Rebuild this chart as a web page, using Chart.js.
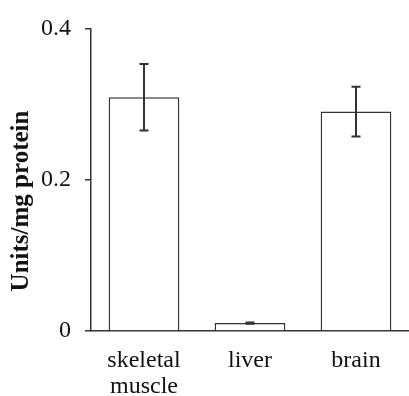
<!DOCTYPE html>
<html>
<head>
<meta charset="utf-8">
<script src="https://cdn.jsdelivr.net/npm/chart.js@4/dist/chart.umd.min.js"></script>
<style>
  html, body { margin: 0; padding: 0; background: #fff; }
  #wrap { width: 409px; height: 396px; }
</style>
</head>
<body>
<div id="wrap"><canvas id="activityChart" width="409" height="396"></canvas></div>
<script>
// tissue activity, mean and error
const tissues = [["skeletal", "muscle"], "liver", "brain"];
const activity = [0.309, 0.0105, 0.290];
const errors = [0.044, 0.0008, 0.033];
const yTicks = [0, 0.2, 0.4];

const serif = "'Liberation Serif', 'Times New Roman', serif";
const ink = "#333";

// error bars drawn on top of the bars
const errorBars = {
  id: "errorBars",
  afterDatasetsDraw(chart) {
    const ctx = chart.ctx;
    const meta = chart.getDatasetMeta(0);
    const y = chart.scales.y;
    ctx.save();
    ctx.strokeStyle = ink;
    ctx.lineWidth = 2;
    meta.data.forEach((bar, i) => {
      const top = y.getPixelForValue(activity[i] + errors[i]);
      const bottom = y.getPixelForValue(activity[i] - errors[i]);
      const x = bar.x;
      ctx.beginPath();
      ctx.moveTo(x, top); ctx.lineTo(x, bottom);
      ctx.moveTo(x - 4.5, top); ctx.lineTo(x + 4.5, top);
      ctx.moveTo(x - 4.5, bottom); ctx.lineTo(x + 4.5, bottom);
      ctx.stroke();
    });
    ctx.restore();
  }
};

// y axis title sits a bit below the middle in the original
const yTitle = {
  id: "yTitle",
  afterDraw(chart) {
    const ctx = chart.ctx;
    ctx.save();
    ctx.translate(22, 201);
    ctx.rotate(-Math.PI / 2);
    ctx.font = "bold 25px " + serif;
    ctx.fillStyle = "#111";
    ctx.textAlign = "center";
    ctx.textBaseline = "middle";
    ctx.fillText("Units/mg protein", 0, 0);
    ctx.restore();
  }
};

new Chart(document.getElementById("activityChart"), {
  type: "bar",
  data: {
    labels: tissues,
    datasets: [{
      data: activity,
      backgroundColor: "#fff",
      borderColor: ink,
      borderWidth: 1.5,
      barPercentage: 0.667,
      categoryPercentage: 1
    }]
  },
  options: {
    responsive: false,
    animation: false,
    layout: { padding: { top: 24, right: 0, left: 0, bottom: 0 } },
    plugins: { legend: { display: false }, tooltip: { enabled: false } },
    scales: {
      x: {
        grid: { display: false, drawTicks: false },
        border: { display: true, color: ink, width: 1.5 },
        ticks: {
          color: "#111",
          padding: 17,
          font: { family: serif, size: 24, lineHeight: 1.08 },
          maxRotation: 0
        },
        afterFit(scale) { scale.height = 65; }
      },
      y: {
        min: 0,
        max: 0.4,
        afterBuildTicks(scale) { scale.ticks = yTicks.map(v => ({ value: v })); },
        grid: { drawOnChartArea: false, drawTicks: true, tickLength: 6, color: ink, lineWidth: 1.5 },
        border: { display: true, color: ink, width: 1.5 },
        ticks: {
          color: "#111",
          padding: 14,
          font: { family: serif, size: 24 },
          callback: v => (v === 0 ? "0" : v.toFixed(1))
        },
        afterFit(scale) { scale.width = 91; }
      }
    }
  },
  plugins: [errorBars, yTitle]
});
</script>
</body>
</html>
